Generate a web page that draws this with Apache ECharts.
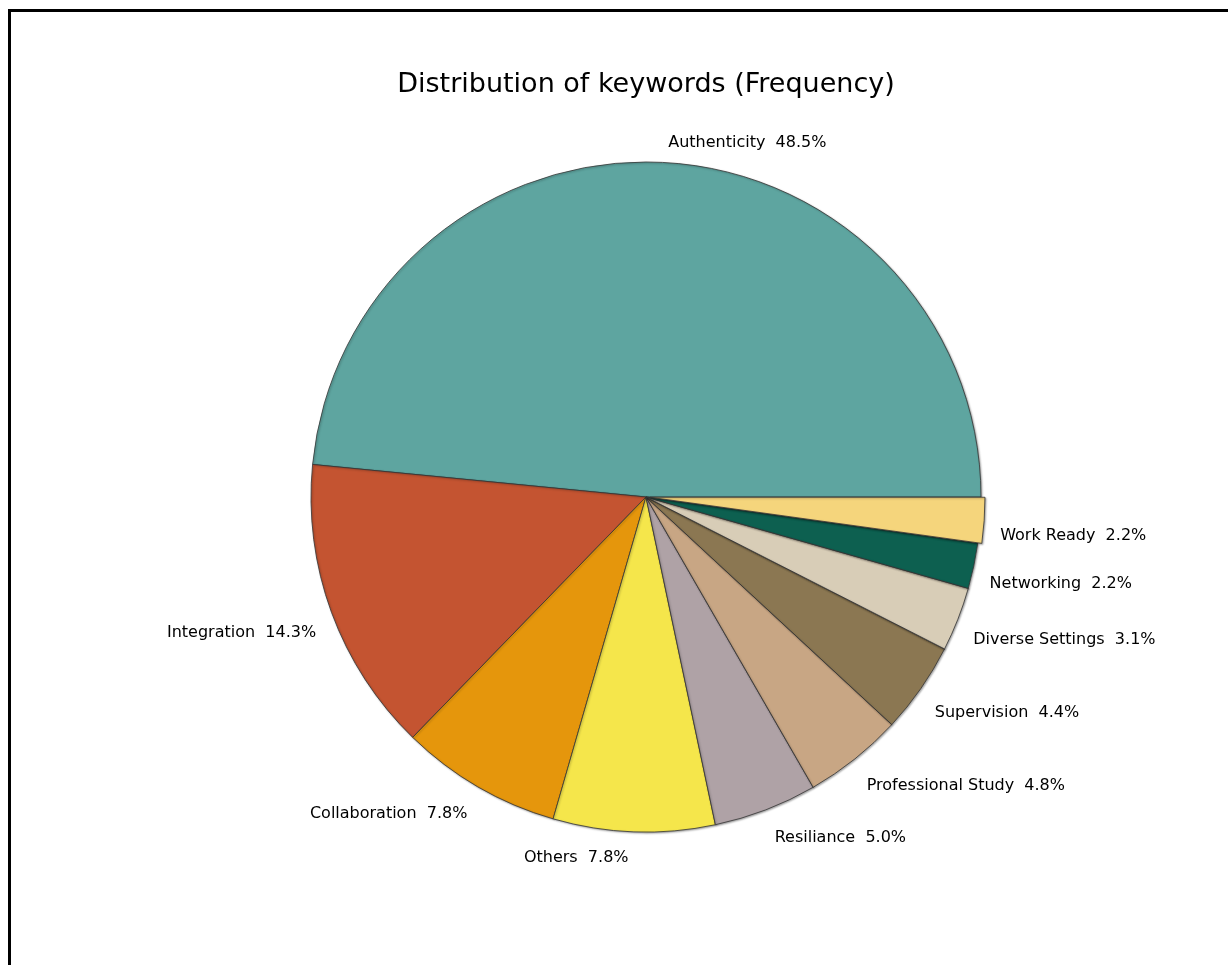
<!DOCTYPE html>
<html>
<head>
<meta charset="utf-8">
<script src="https://cdn.jsdelivr.net/npm/echarts@6/dist/echarts.min.js"></script>
<style>
html,body{margin:0;padding:0;background:#fff;}
#frame{position:absolute;left:8px;top:9px;width:1220px;height:956px;border-left:3px solid #000;border-top:3px solid #000;box-sizing:border-box;}
#chart{position:absolute;left:0;top:0;width:1228px;height:965px;}
</style>
</head>
<body>
<div id="frame"></div>
<div id="chart"></div>
<script>
const categories = ["Authenticity","Integration","Collaboration","Others","Resiliance","Professional Study","Supervision","Diverse Settings","Networking","Work Ready"];
const values = [48.5,14.3,7.8,7.8,5.0,4.8,4.4,3.1,2.2,2.2];
const colors = ["#5EA5A0","#C45431","#E5960C","#F5E64B","#AFA2A6","#C8A684","#8B7752","#D8CDB7","#0D6050","#F5D57C"];
const titleText = "Distribution of keywords (Frequency)";

const total = values.reduce((a,b)=>a+b,0);
const midAngles = [];
let acc = 0;
values.forEach(v => { midAngles.push((acc + v/2) / total * 2 * Math.PI); acc += v; });

const chart = echarts.init(document.getElementById('chart'), null, {renderer:'canvas'});
const data = categories.map((c,i)=>({
  name:c, value:values[i],
  selected: c === "Work Ready",
  itemStyle:{color:colors[i]}
}));
chart.setOption({
  animation:false,
  title:{
    text:titleText, left:641, top:66, textAlign:'center',
    textStyle:{fontFamily:'DejaVu Sans', fontSize:27, fontWeight:'normal', color:'#000'}
  },
  series:[{
    type:'pie',
    center:[646,497],
    radius:335,
    startAngle:0,
    clockwise:false,
    avoidLabelOverlap:true,
    selectedMode:'multiple',
    selectedOffset:4,
    data:data,
    itemStyle:{borderColor:'#333', borderWidth:0.8, shadowColor:'rgba(0,0,0,0.35)', shadowBlur:2, shadowOffsetX:1, shadowOffsetY:1},
    label:{
      show:true, position:'outside',
      formatter:p => p.name + '  ' + p.value.toFixed(1) + '%',
      fontFamily:'DejaVu Sans', fontSize:16, color:'#000',
      distanceToLabelLine:5
    },
    labelLayout: function (params) {
      const a = midAngles[params.dataIndex];
      const s = Math.sin(a), c = Math.cos(a);
      if (s > 0) return {};
      return { dx: -9 * c, dy: 6 + 8 * Math.abs(c) };
    },
    labelLine:{show:false, length:20, length2:0},
    emphasis:{disabled:true}
  }]
});
</script>
</body>
</html>
